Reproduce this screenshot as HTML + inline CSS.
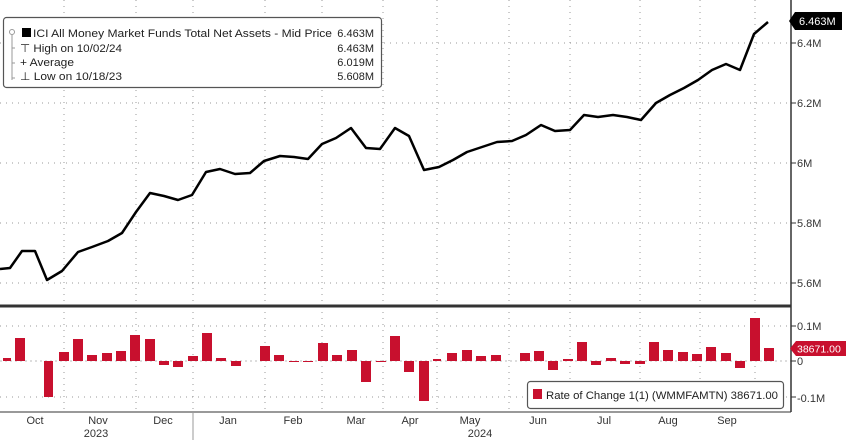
<!DOCTYPE html>
<html><head><meta charset="utf-8"><style>
body{margin:0;background:#fff;}
svg{display:block;font-family:"Liberation Sans",sans-serif;}
</style></head><body>
<svg width="848" height="440" viewBox="0 0 848 440">
<rect width="848" height="440" fill="#fff"/>
<g stroke="#999" stroke-width="1" stroke-dasharray="1,5">
<line x1="0" y1="43" x2="791" y2="43"/><line x1="0" y1="103" x2="791" y2="103"/><line x1="0" y1="163" x2="791" y2="163"/><line x1="0" y1="223" x2="791" y2="223"/><line x1="0" y1="283" x2="791" y2="283"/>
<line x1="0" y1="326" x2="791" y2="326"/><line x1="0" y1="397" x2="791" y2="397"/>
<line x1="64" y1="0" x2="64" y2="412"/><line x1="136" y1="0" x2="136" y2="412"/><line x1="193" y1="0" x2="193" y2="412"/><line x1="265" y1="0" x2="265" y2="412"/><line x1="322" y1="0" x2="322" y2="412"/><line x1="383" y1="0" x2="383" y2="412"/><line x1="437" y1="0" x2="437" y2="412"/><line x1="509" y1="0" x2="509" y2="412"/><line x1="570" y1="0" x2="570" y2="412"/><line x1="640" y1="0" x2="640" y2="412"/><line x1="700" y1="0" x2="700" y2="412"/><line x1="755" y1="0" x2="755" y2="412"/>
</g>
<line x1="0" y1="361" x2="791" y2="361" stroke="#bbb" stroke-dasharray="2,3"/>
<polyline fill="none" stroke="#000" stroke-width="2.5" stroke-linejoin="round" points="0,269 10,268 22,251 35,251 47,280 62,271 78,252 92,247 108,241 122,233 136,212 150,193 164,196 178,200 192,195 206,172 220,169 235,174 250,173 264,161 280,156 294,157 308,159 322,144 336,138 351,128 366,148 380,149 395,128 409,136 424,170 439,167 453,160 467,152 482,147 497,142 512,141 526,135 541,125 555,131 570,130 584,115 598,117 613,115 627,117 641,120 656,103 670,95 684,88 698,80 712,70 726,64 740,70 754,34 768,22"/>
<g fill="#c8102e">
<rect x="3" y="358" width="8" height="3"/><rect x="15" y="338" width="10" height="23"/><rect x="44" y="361" width="9" height="36"/><rect x="59" y="352" width="10" height="9"/><rect x="73" y="339" width="10" height="22"/><rect x="87" y="355" width="10" height="6"/><rect x="102" y="353" width="10" height="8"/><rect x="116" y="351" width="10" height="10"/><rect x="130" y="335" width="10" height="26"/><rect x="145" y="339" width="10" height="22"/><rect x="159" y="361" width="10" height="4"/><rect x="173" y="361" width="10" height="6"/><rect x="188" y="356" width="10" height="5"/><rect x="202" y="333" width="10" height="28"/><rect x="216" y="358" width="10" height="3"/><rect x="231" y="361" width="10" height="5"/><rect x="260" y="346" width="10" height="15"/><rect x="274" y="355" width="10" height="6"/><rect x="289" y="361" width="10" height="1"/><rect x="303" y="361" width="10" height="1"/><rect x="318" y="343" width="10" height="18"/><rect x="332" y="355" width="10" height="6"/><rect x="347" y="350" width="10" height="11"/><rect x="361" y="361" width="10" height="21"/><rect x="376" y="361" width="10" height="1"/><rect x="390" y="336" width="10" height="25"/><rect x="404" y="361" width="10" height="11"/><rect x="419" y="361" width="10" height="40"/><rect x="433" y="359" width="8" height="2"/><rect x="447" y="353" width="10" height="8"/><rect x="462" y="350" width="10" height="11"/><rect x="476" y="356" width="10" height="5"/><rect x="491" y="355" width="10" height="6"/><rect x="520" y="353" width="10" height="8"/><rect x="534" y="351" width="10" height="10"/><rect x="548" y="361" width="10" height="9"/><rect x="563" y="359" width="10" height="2"/><rect x="577" y="342" width="10" height="19"/><rect x="591" y="361" width="10" height="4"/><rect x="606" y="358" width="10" height="3"/><rect x="620" y="361" width="10" height="3"/><rect x="635" y="361" width="10" height="3"/><rect x="649" y="342" width="10" height="19"/><rect x="663" y="350" width="10" height="11"/><rect x="678" y="352" width="10" height="9"/><rect x="692" y="354" width="10" height="7"/><rect x="706" y="347" width="10" height="14"/><rect x="721" y="353" width="10" height="8"/><rect x="735" y="361" width="10" height="7"/><rect x="750" y="318" width="10" height="43"/><rect x="764" y="348" width="10" height="13"/>
</g>
<line x1="0" y1="306" x2="791" y2="306" stroke="#333" stroke-width="3"/>
<line x1="791" y1="0" x2="791" y2="412" stroke="#333" stroke-width="1.5"/>
<line x1="0" y1="412" x2="791" y2="412" stroke="#333" stroke-width="1"/>
<g font-size="11" fill="#333">
<text x="797" y="47">6.4M</text><text x="797" y="107">6.2M</text><text x="797" y="167">6M</text><text x="797" y="227">5.8M</text><text x="797" y="287">5.6M</text>
<text x="797" y="330">0.1M</text><text x="797" y="365">0</text><text x="797" y="402">-0.1M</text>
</g>
<g stroke="#333"><line x1="791" y1="43" x2="796" y2="43"/><line x1="791" y1="103" x2="796" y2="103"/><line x1="791" y1="163" x2="796" y2="163"/><line x1="791" y1="223" x2="796" y2="223"/><line x1="791" y1="283" x2="796" y2="283"/><line x1="791" y1="326" x2="796" y2="326"/><line x1="791" y1="361" x2="796" y2="361"/><line x1="791" y1="397" x2="796" y2="397"/></g>
<path d="M795,12 L842,12 L842,30 L795,30 L789,21 Z" fill="#000"/>
<text x="799" y="25" font-size="11" fill="#fff">6.463M</text>
<path d="M796,341 L846,341 L846,356 L796,356 L790,348.5 Z" fill="#c8102e"/>
<text x="797" y="352.5" font-size="10.5" fill="#fff">38671.00</text>
<g font-size="11" fill="#333" text-anchor="middle">
<text x="35" y="424">Oct</text><text x="98" y="424">Nov</text><text x="163" y="424">Dec</text><text x="228" y="424">Jan</text><text x="293" y="424">Feb</text><text x="356" y="424">Mar</text><text x="410" y="424">Apr</text><text x="470" y="424">May</text><text x="538" y="424">Jun</text><text x="604" y="424">Jul</text><text x="668" y="424">Aug</text><text x="727" y="424">Sep</text>
<text x="96" y="437">2023</text><text x="480" y="437">2024</text>
</g>
<line x1="193" y1="412" x2="193" y2="440" stroke="#999"/>
<rect x="3.5" y="17.5" width="378" height="70" rx="3" fill="#fff" stroke="#555" stroke-width="1.2"/>
<rect x="22" y="28" width="9" height="9" fill="#000"/>
<circle cx="12" cy="32" r="2.5" fill="none" stroke="#999"/>
<path d="M12,35 V80 M12,48 H15 M12,63 H15 M12,78 H15" stroke="#999" fill="none"/>
<g font-size="11" fill="#222">
<text x="33" y="37" textLength="299" lengthAdjust="spacingAndGlyphs">ICI All Money Market Funds Total Net Assets - Mid Price</text><text x="374" y="37" text-anchor="end">6.463M</text>
<text x="20" y="52" textLength="102" lengthAdjust="spacingAndGlyphs">⊤ High on 10/02/24</text><text x="374" y="52" text-anchor="end">6.463M</text>
<text x="20" y="66" textLength="54" lengthAdjust="spacingAndGlyphs">+ Average</text><text x="374" y="66" text-anchor="end">6.019M</text>
<text x="20" y="80" textLength="102" lengthAdjust="spacingAndGlyphs">⊥ Low on 10/18/23</text><text x="374" y="80" text-anchor="end">5.608M</text>
</g>
<rect x="527.5" y="381.5" width="256" height="27" rx="3" fill="#fff" stroke="#555" stroke-width="1.2"/>
<rect x="533" y="389" width="9" height="10" fill="#c8102e"/>
<text x="546" y="399" font-size="11" fill="#222" textLength="232" lengthAdjust="spacingAndGlyphs">Rate of Change 1(1) (WMMFAMTN) 38671.00</text>
</svg>
</body></html>
